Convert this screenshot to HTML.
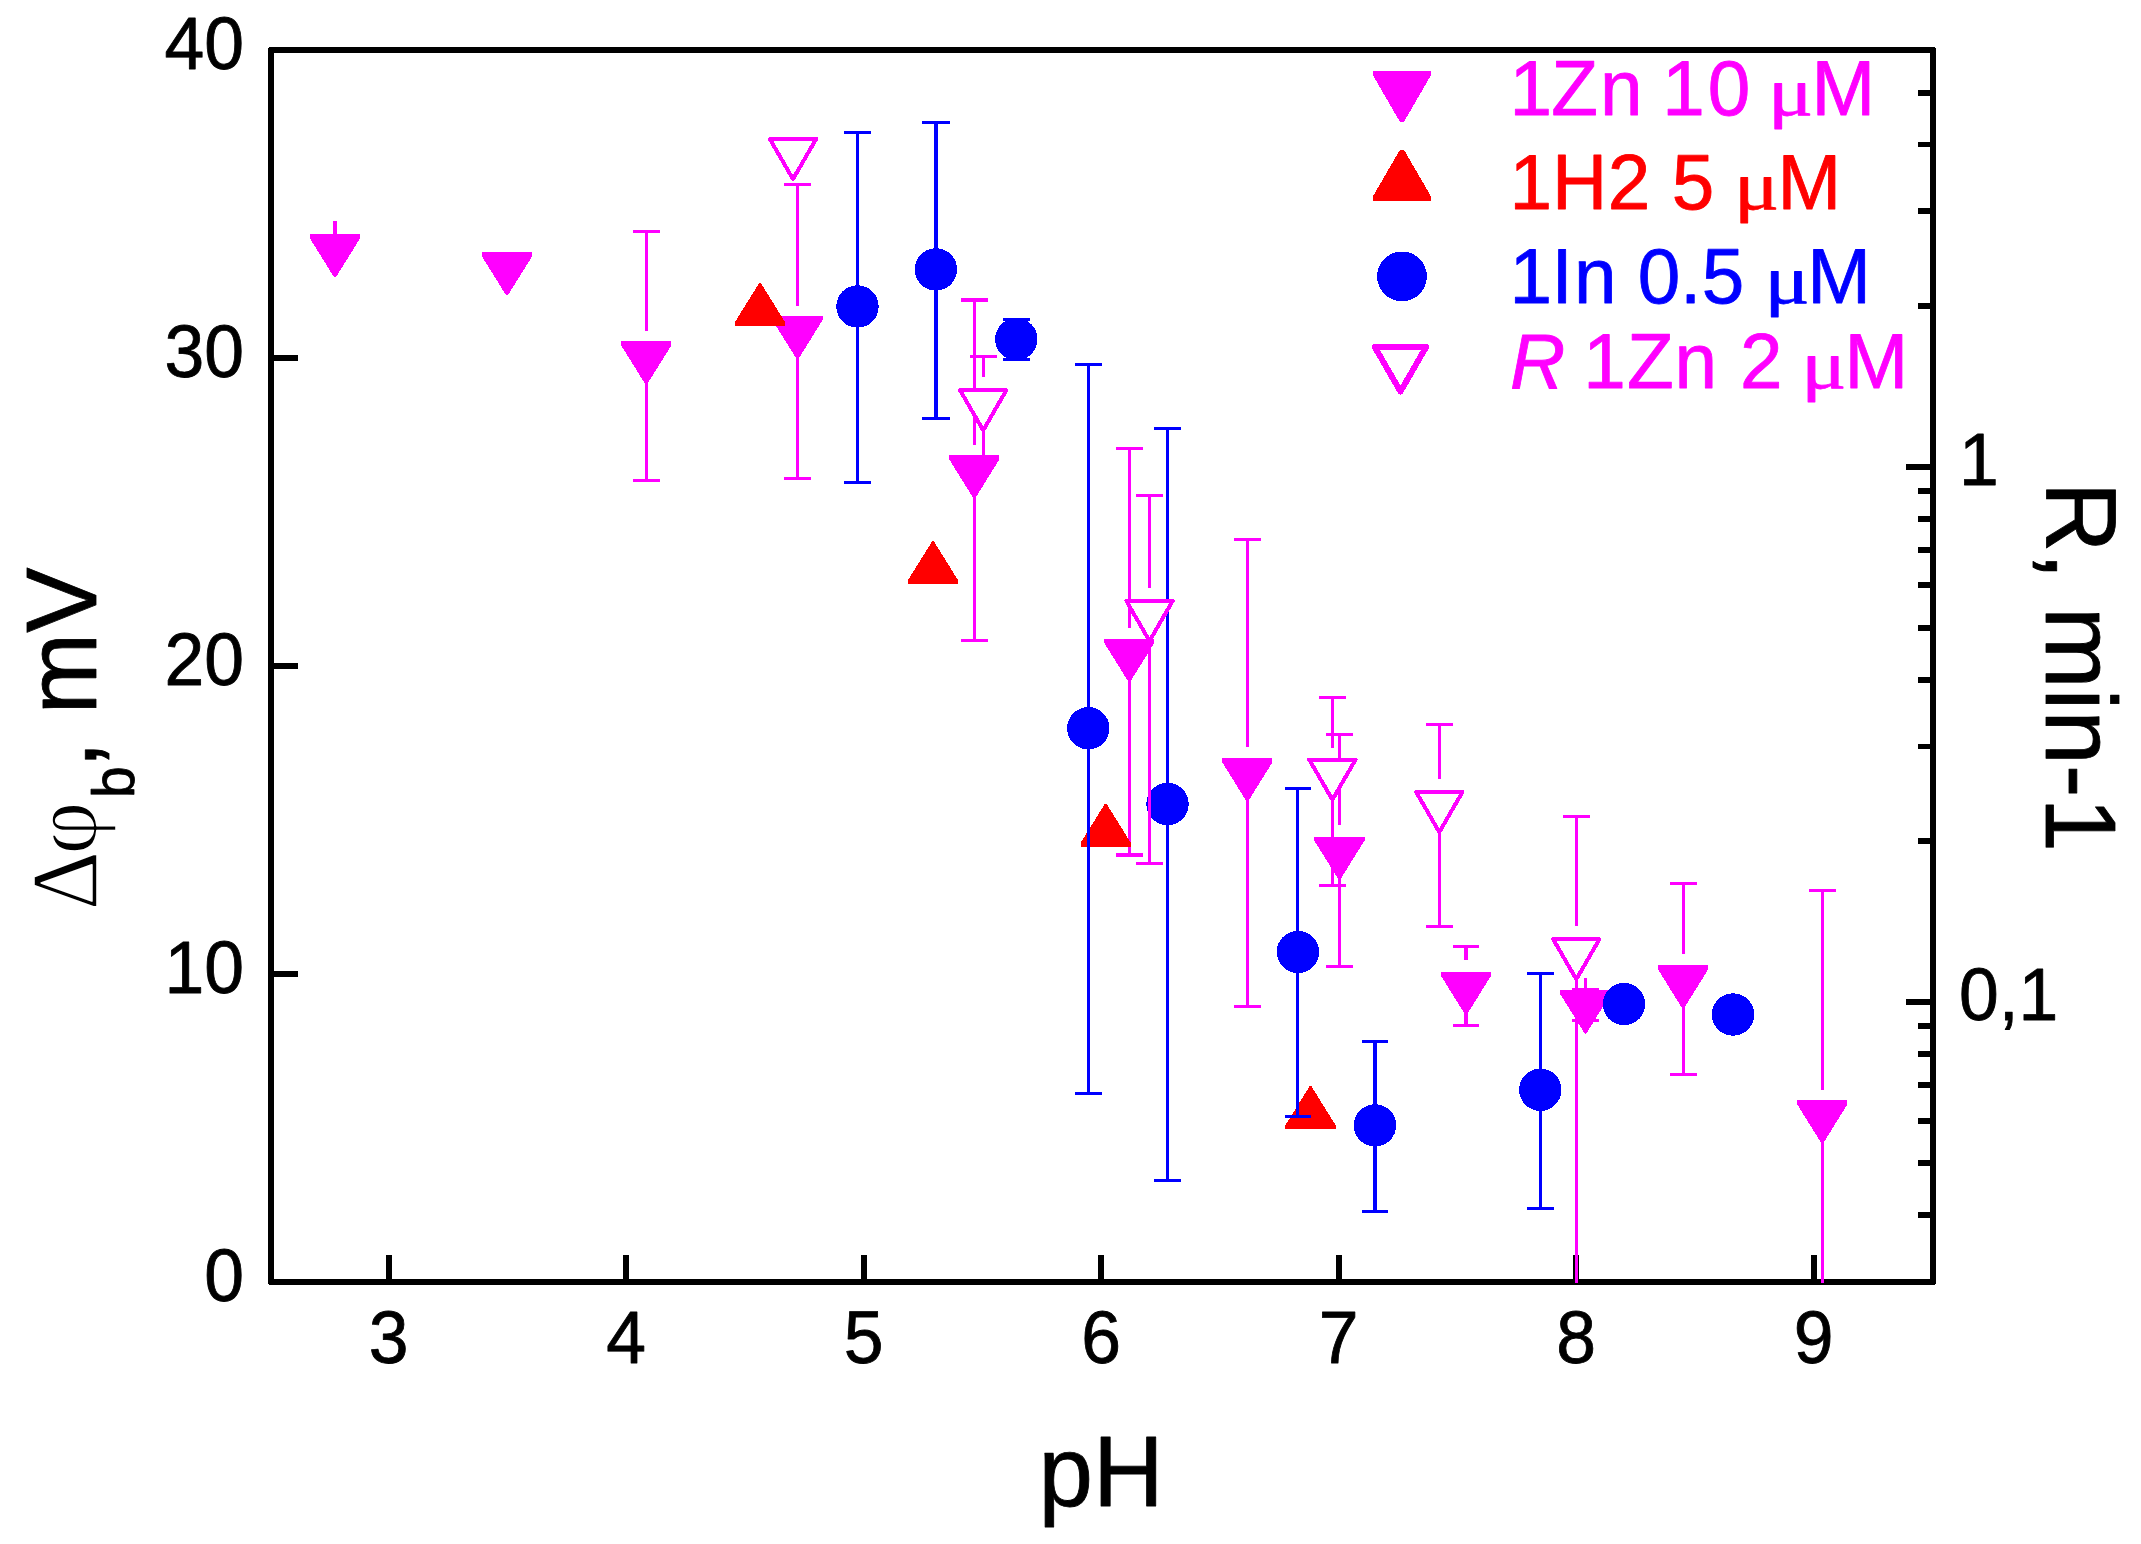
<!DOCTYPE html>
<html lang="en"><head><meta charset="utf-8"><title>pH dependence plot</title>
<style>html,body{margin:0;padding:0;background:#fff;}body{width:2141px;height:1544px;overflow:hidden;}svg{display:block;}text{font-family:"Liberation Sans",Arial,sans-serif;stroke-width:0.8px;stroke-linejoin:round;}.sym{font-family:"Liberation Serif","DejaVu Serif",serif;}</style></head><body>
<svg width="2141" height="1544" viewBox="0 0 2141 1544" shape-rendering="crispEdges">
<rect x="0" y="0" width="2141" height="1544" fill="#ffffff"/>
<rect x="271" y="49.95" width="1662.1" height="1232.15" fill="none" stroke="#000000" stroke-width="6" stroke-linejoin="round"/>
<text transform="translate(244,68.85) scale(1,1.025)" font-size="71.5" text-anchor="end" fill="#000000" stroke="#000000">40</text>
<line x1="271" y1="357.99" x2="298.3" y2="357.99" stroke="#000000" stroke-width="5.9" stroke-linecap="butt"/>
<text transform="translate(244,376.89) scale(1,1.025)" font-size="71.5" text-anchor="end" fill="#000000" stroke="#000000">30</text>
<line x1="271" y1="666.02" x2="298.3" y2="666.02" stroke="#000000" stroke-width="5.9" stroke-linecap="butt"/>
<text transform="translate(244,684.92) scale(1,1.025)" font-size="71.5" text-anchor="end" fill="#000000" stroke="#000000">20</text>
<line x1="271" y1="974.06" x2="298.3" y2="974.06" stroke="#000000" stroke-width="5.9" stroke-linecap="butt"/>
<text transform="translate(244,992.96) scale(1,1.025)" font-size="71.5" text-anchor="end" fill="#000000" stroke="#000000">10</text>
<text transform="translate(244,1301) scale(1,1.025)" font-size="71.5" text-anchor="end" fill="#000000" stroke="#000000">0</text>
<line x1="388.75" y1="1282.1" x2="388.75" y2="1254.9" stroke="#000000" stroke-width="5.9" stroke-linecap="butt"/>
<text transform="translate(388.75,1363.2) scale(1,1.025)" font-size="71.5" text-anchor="middle" fill="#000000" stroke="#000000">3</text>
<line x1="626.25" y1="1282.1" x2="626.25" y2="1254.9" stroke="#000000" stroke-width="5.9" stroke-linecap="butt"/>
<text transform="translate(626.25,1363.2) scale(1,1.025)" font-size="71.5" text-anchor="middle" fill="#000000" stroke="#000000">4</text>
<line x1="863.75" y1="1282.1" x2="863.75" y2="1254.9" stroke="#000000" stroke-width="5.9" stroke-linecap="butt"/>
<text transform="translate(863.75,1363.2) scale(1,1.025)" font-size="71.5" text-anchor="middle" fill="#000000" stroke="#000000">5</text>
<line x1="1101.25" y1="1282.1" x2="1101.25" y2="1254.9" stroke="#000000" stroke-width="5.9" stroke-linecap="butt"/>
<text transform="translate(1101.25,1363.2) scale(1,1.025)" font-size="71.5" text-anchor="middle" fill="#000000" stroke="#000000">6</text>
<line x1="1338.75" y1="1282.1" x2="1338.75" y2="1254.9" stroke="#000000" stroke-width="5.9" stroke-linecap="butt"/>
<text transform="translate(1338.75,1363.2) scale(1,1.025)" font-size="71.5" text-anchor="middle" fill="#000000" stroke="#000000">7</text>
<line x1="1576.25" y1="1282.1" x2="1576.25" y2="1254.9" stroke="#000000" stroke-width="5.9" stroke-linecap="butt"/>
<text transform="translate(1576.25,1363.2) scale(1,1.025)" font-size="71.5" text-anchor="middle" fill="#000000" stroke="#000000">8</text>
<line x1="1813.75" y1="1282.1" x2="1813.75" y2="1254.9" stroke="#000000" stroke-width="5.9" stroke-linecap="butt"/>
<text transform="translate(1813.75,1363.2) scale(1,1.025)" font-size="71.5" text-anchor="middle" fill="#000000" stroke="#000000">9</text>
<line x1="1933.1" y1="92.61" x2="1918.1" y2="92.61" stroke="#000000" stroke-width="5.9" stroke-linecap="butt"/>
<line x1="1933.1" y1="144.48" x2="1918.1" y2="144.48" stroke="#000000" stroke-width="5.9" stroke-linecap="butt"/>
<line x1="1933.1" y1="211.34" x2="1918.1" y2="211.34" stroke="#000000" stroke-width="5.9" stroke-linecap="butt"/>
<line x1="1933.1" y1="305.59" x2="1918.1" y2="305.59" stroke="#000000" stroke-width="5.9" stroke-linecap="butt"/>
<line x1="1933.1" y1="491.19" x2="1918.1" y2="491.19" stroke="#000000" stroke-width="5.9" stroke-linecap="butt"/>
<line x1="1933.1" y1="518.57" x2="1918.1" y2="518.57" stroke="#000000" stroke-width="5.9" stroke-linecap="butt"/>
<line x1="1933.1" y1="549.6" x2="1918.1" y2="549.6" stroke="#000000" stroke-width="5.9" stroke-linecap="butt"/>
<line x1="1933.1" y1="585.43" x2="1918.1" y2="585.43" stroke="#000000" stroke-width="5.9" stroke-linecap="butt"/>
<line x1="1933.1" y1="627.81" x2="1918.1" y2="627.81" stroke="#000000" stroke-width="5.9" stroke-linecap="butt"/>
<line x1="1933.1" y1="679.68" x2="1918.1" y2="679.68" stroke="#000000" stroke-width="5.9" stroke-linecap="butt"/>
<line x1="1933.1" y1="746.54" x2="1918.1" y2="746.54" stroke="#000000" stroke-width="5.9" stroke-linecap="butt"/>
<line x1="1933.1" y1="840.79" x2="1918.1" y2="840.79" stroke="#000000" stroke-width="5.9" stroke-linecap="butt"/>
<line x1="1933.1" y1="1026.39" x2="1918.1" y2="1026.39" stroke="#000000" stroke-width="5.9" stroke-linecap="butt"/>
<line x1="1933.1" y1="1053.77" x2="1918.1" y2="1053.77" stroke="#000000" stroke-width="5.9" stroke-linecap="butt"/>
<line x1="1933.1" y1="1084.8" x2="1918.1" y2="1084.8" stroke="#000000" stroke-width="5.9" stroke-linecap="butt"/>
<line x1="1933.1" y1="1120.63" x2="1918.1" y2="1120.63" stroke="#000000" stroke-width="5.9" stroke-linecap="butt"/>
<line x1="1933.1" y1="1163.01" x2="1918.1" y2="1163.01" stroke="#000000" stroke-width="5.9" stroke-linecap="butt"/>
<line x1="1933.1" y1="1214.88" x2="1918.1" y2="1214.88" stroke="#000000" stroke-width="5.9" stroke-linecap="butt"/>
<line x1="1933.1" y1="466.7" x2="1905.8" y2="466.7" stroke="#000000" stroke-width="5.9" stroke-linecap="butt"/>
<text transform="translate(1959,485.2) scale(1,1.025)" font-size="71.5" fill="#000000" stroke="#000000">1</text>
<line x1="1933.1" y1="1001.9" x2="1905.8" y2="1001.9" stroke="#000000" stroke-width="5.9" stroke-linecap="butt"/>
<text transform="translate(1959,1020.4) scale(1,1.025)" font-size="71.5" fill="#000000" stroke="#000000">0,1</text>
<g id="s1">
<line x1="335" y1="221.25" x2="335" y2="236" stroke="#ff00ff" stroke-width="3.1" stroke-linecap="butt"/>
<polygon points="309.85,234.25 360.15,234.25 360.15,238.25 335.8,277.45 334.2,277.45 309.85,238.25" fill="#ff00ff"/>
<polygon points="481.85,252.25 532.15,252.25 532.15,256.25 507.8,295.45 506.2,295.45 481.85,256.25" fill="#ff00ff"/>
<line x1="632.85" y1="231.25" x2="659.65" y2="231.25" stroke="#ff00ff" stroke-width="3.1" stroke-linecap="butt"/>
<line x1="646.25" y1="231.25" x2="646.25" y2="330.5" stroke="#ff00ff" stroke-width="3.1" stroke-linecap="butt"/>
<line x1="646.25" y1="380.95" x2="646.25" y2="480.3" stroke="#ff00ff" stroke-width="3.1" stroke-linecap="butt"/>
<line x1="632.85" y1="480.3" x2="659.65" y2="480.3" stroke="#ff00ff" stroke-width="3.1" stroke-linecap="butt"/>
<polygon points="621.1,341.25 671.4,341.25 671.4,345.25 647.05,384.45 645.45,384.45 621.1,345.25" fill="#ff00ff"/>
<line x1="784.1" y1="184.5" x2="810.9" y2="184.5" stroke="#ff00ff" stroke-width="3.1" stroke-linecap="butt"/>
<line x1="797.5" y1="184.5" x2="797.5" y2="305.5" stroke="#ff00ff" stroke-width="3.1" stroke-linecap="butt"/>
<line x1="797.5" y1="355.7" x2="797.5" y2="478.3" stroke="#ff00ff" stroke-width="3.1" stroke-linecap="butt"/>
<line x1="784.1" y1="478.3" x2="810.9" y2="478.3" stroke="#ff00ff" stroke-width="3.1" stroke-linecap="butt"/>
<polygon points="772.35,316 822.65,316 822.65,320 798.3,359.2 796.7,359.2 772.35,320" fill="#ff00ff"/>
<line x1="960.9" y1="300" x2="987.7" y2="300" stroke="#ff00ff" stroke-width="3.1" stroke-linecap="butt"/>
<line x1="974.3" y1="300" x2="974.3" y2="444.5" stroke="#ff00ff" stroke-width="3.1" stroke-linecap="butt"/>
<line x1="974.3" y1="495" x2="974.3" y2="640.5" stroke="#ff00ff" stroke-width="3.1" stroke-linecap="butt"/>
<line x1="960.9" y1="640.5" x2="987.7" y2="640.5" stroke="#ff00ff" stroke-width="3.1" stroke-linecap="butt"/>
<polygon points="949.15,455.3 999.45,455.3 999.45,459.3 975.1,498.5 973.5,498.5 949.15,459.3" fill="#ff00ff"/>
<line x1="1115.9" y1="448.25" x2="1142.7" y2="448.25" stroke="#ff00ff" stroke-width="3.1" stroke-linecap="butt"/>
<line x1="1129.3" y1="448.25" x2="1129.3" y2="627.5" stroke="#ff00ff" stroke-width="3.1" stroke-linecap="butt"/>
<line x1="1129.3" y1="678.45" x2="1129.3" y2="855" stroke="#ff00ff" stroke-width="3.1" stroke-linecap="butt"/>
<line x1="1115.9" y1="855" x2="1142.7" y2="855" stroke="#ff00ff" stroke-width="3.1" stroke-linecap="butt"/>
<polygon points="1104.15,638.75 1154.45,638.75 1154.45,642.75 1130.1,681.95 1128.5,681.95 1104.15,642.75" fill="#ff00ff"/>
<line x1="1233.9" y1="539.25" x2="1260.7" y2="539.25" stroke="#ff00ff" stroke-width="3.1" stroke-linecap="butt"/>
<line x1="1247.3" y1="539.25" x2="1247.3" y2="747" stroke="#ff00ff" stroke-width="3.1" stroke-linecap="butt"/>
<line x1="1247.3" y1="797.9" x2="1247.3" y2="1006.3" stroke="#ff00ff" stroke-width="3.1" stroke-linecap="butt"/>
<line x1="1233.9" y1="1006.3" x2="1260.7" y2="1006.3" stroke="#ff00ff" stroke-width="3.1" stroke-linecap="butt"/>
<polygon points="1222.15,758.2 1272.45,758.2 1272.45,762.2 1248.1,801.4 1246.5,801.4 1222.15,762.2" fill="#ff00ff"/>
<line x1="1326" y1="734.4" x2="1352.8" y2="734.4" stroke="#ff00ff" stroke-width="3.1" stroke-linecap="butt"/>
<line x1="1339.4" y1="734.4" x2="1339.4" y2="825" stroke="#ff00ff" stroke-width="3.1" stroke-linecap="butt"/>
<line x1="1339.4" y1="876.2" x2="1339.4" y2="966.25" stroke="#ff00ff" stroke-width="3.1" stroke-linecap="butt"/>
<line x1="1326" y1="966.25" x2="1352.8" y2="966.25" stroke="#ff00ff" stroke-width="3.1" stroke-linecap="butt"/>
<polygon points="1314.25,836.5 1364.55,836.5 1364.55,840.5 1340.2,879.7 1338.6,879.7 1314.25,840.5" fill="#ff00ff"/>
<line x1="1452.6" y1="946.25" x2="1479.4" y2="946.25" stroke="#ff00ff" stroke-width="3.1" stroke-linecap="butt"/>
<line x1="1466" y1="946.25" x2="1466" y2="960.3" stroke="#ff00ff" stroke-width="3.1" stroke-linecap="butt"/>
<line x1="1466" y1="1011.3" x2="1466" y2="1025.5" stroke="#ff00ff" stroke-width="3.1" stroke-linecap="butt"/>
<line x1="1452.6" y1="1025.5" x2="1479.4" y2="1025.5" stroke="#ff00ff" stroke-width="3.1" stroke-linecap="butt"/>
<polygon points="1440.85,971.6 1491.15,971.6 1491.15,975.6 1466.8,1014.8 1465.2,1014.8 1440.85,975.6" fill="#ff00ff"/>
<line x1="1585.5" y1="1030" x2="1585.5" y2="1020.5" stroke="#ff00ff" stroke-width="3.1" stroke-linecap="butt"/>
<line x1="1572.1" y1="1020.5" x2="1598.9" y2="1020.5" stroke="#ff00ff" stroke-width="3.1" stroke-linecap="butt"/>
<line x1="1585.5" y1="977.5" x2="1585.5" y2="992" stroke="#ff00ff" stroke-width="3.1" stroke-linecap="butt"/>
<line x1="1572.1" y1="989.6" x2="1598.9" y2="989.6" stroke="#ff00ff" stroke-width="3.1" stroke-linecap="butt"/>
<polygon points="1560.35,990.3 1610.65,990.3 1610.65,994.3 1586.3,1033.5 1584.7,1033.5 1560.35,994.3" fill="#ff00ff"/>
<line x1="1669.7" y1="883.75" x2="1696.5" y2="883.75" stroke="#ff00ff" stroke-width="3.1" stroke-linecap="butt"/>
<line x1="1683.1" y1="883.75" x2="1683.1" y2="954" stroke="#ff00ff" stroke-width="3.1" stroke-linecap="butt"/>
<line x1="1683.1" y1="1005" x2="1683.1" y2="1074.75" stroke="#ff00ff" stroke-width="3.1" stroke-linecap="butt"/>
<line x1="1669.7" y1="1074.75" x2="1696.5" y2="1074.75" stroke="#ff00ff" stroke-width="3.1" stroke-linecap="butt"/>
<polygon points="1657.95,965.3 1708.25,965.3 1708.25,969.3 1683.9,1008.5 1682.3,1008.5 1657.95,969.3" fill="#ff00ff"/>
<line x1="1808.9" y1="890.25" x2="1835.7" y2="890.25" stroke="#ff00ff" stroke-width="3.1" stroke-linecap="butt"/>
<line x1="1822.3" y1="890.25" x2="1822.3" y2="1089.5" stroke="#ff00ff" stroke-width="3.1" stroke-linecap="butt"/>
<line x1="1822.3" y1="1140" x2="1822.3" y2="1283" stroke="#ff00ff" stroke-width="3.1" stroke-linecap="butt"/>
<polygon points="1797.15,1100.3 1847.45,1100.3 1847.45,1104.3 1823.1,1143.5 1821.5,1143.5 1797.15,1104.3" fill="#ff00ff"/>
</g>
<g id="s2">
<polygon points="734.85,326.2 785.15,326.2 785.15,322.2 760.8,283 759.2,283 734.85,322.2" fill="#ff0000"/>
<polygon points="907.85,584.4 958.15,584.4 958.15,580.4 933.8,541.2 932.2,541.2 907.85,580.4" fill="#ff0000"/>
<polygon points="1080.6,846.95 1130.9,846.95 1130.9,842.95 1106.55,803.75 1104.95,803.75 1080.6,842.95" fill="#ff0000"/>
<polygon points="1285.35,1129.3 1335.65,1129.3 1335.65,1125.3 1311.3,1086.1 1309.7,1086.1 1285.35,1125.3" fill="#ff0000"/>
</g>
<g id="s3">
<line x1="857.5" y1="132.5" x2="857.5" y2="482.4" stroke="#0000ff" stroke-width="3.1" stroke-linecap="butt"/>
<line x1="844.1" y1="132.5" x2="870.9" y2="132.5" stroke="#0000ff" stroke-width="3.1" stroke-linecap="butt"/>
<line x1="844.1" y1="482.4" x2="870.9" y2="482.4" stroke="#0000ff" stroke-width="3.1" stroke-linecap="butt"/>
<circle cx="857.5" cy="306.5" r="21.2" fill="#0000ff"/>
<line x1="936.2" y1="122.5" x2="936.2" y2="418.3" stroke="#0000ff" stroke-width="4" stroke-linecap="butt"/>
<line x1="922" y1="122.5" x2="950" y2="122.5" stroke="#0000ff" stroke-width="3.1" stroke-linecap="butt"/>
<line x1="922" y1="418.3" x2="950" y2="418.3" stroke="#0000ff" stroke-width="3.1" stroke-linecap="butt"/>
<circle cx="935.9" cy="269.4" r="21.2" fill="#0000ff"/>
<line x1="1016.3" y1="319.5" x2="1016.3" y2="359.5" stroke="#0000ff" stroke-width="3.1" stroke-linecap="butt"/>
<line x1="1002.9" y1="319.5" x2="1029.7" y2="319.5" stroke="#0000ff" stroke-width="3.1" stroke-linecap="butt"/>
<line x1="1002.9" y1="359.5" x2="1029.7" y2="359.5" stroke="#0000ff" stroke-width="3.1" stroke-linecap="butt"/>
<circle cx="1016.3" cy="339.2" r="21.2" fill="#0000ff"/>
<line x1="1088.3" y1="364.5" x2="1088.3" y2="1093.6" stroke="#0000ff" stroke-width="3.1" stroke-linecap="butt"/>
<line x1="1074.9" y1="364.5" x2="1101.7" y2="364.5" stroke="#0000ff" stroke-width="3.1" stroke-linecap="butt"/>
<line x1="1074.9" y1="1093.6" x2="1101.7" y2="1093.6" stroke="#0000ff" stroke-width="3.1" stroke-linecap="butt"/>
<circle cx="1088.3" cy="728.25" r="21.2" fill="#0000ff"/>
<line x1="1167.5" y1="428.25" x2="1167.5" y2="1180.7" stroke="#0000ff" stroke-width="3.1" stroke-linecap="butt"/>
<line x1="1154.1" y1="428.25" x2="1180.9" y2="428.25" stroke="#0000ff" stroke-width="3.1" stroke-linecap="butt"/>
<line x1="1154.1" y1="1180.7" x2="1180.9" y2="1180.7" stroke="#0000ff" stroke-width="3.1" stroke-linecap="butt"/>
<circle cx="1167.5" cy="804" r="21.2" fill="#0000ff"/>
<line x1="1297.9" y1="788.25" x2="1297.9" y2="1116.7" stroke="#0000ff" stroke-width="3.1" stroke-linecap="butt"/>
<line x1="1284.5" y1="788.25" x2="1311.3" y2="788.25" stroke="#0000ff" stroke-width="3.1" stroke-linecap="butt"/>
<line x1="1284.5" y1="1116.7" x2="1311.3" y2="1116.7" stroke="#0000ff" stroke-width="3.1" stroke-linecap="butt"/>
<circle cx="1297.9" cy="952" r="21.2" fill="#0000ff"/>
<line x1="1375" y1="1041.3" x2="1375" y2="1211.3" stroke="#0000ff" stroke-width="3.1" stroke-linecap="butt"/>
<line x1="1361.6" y1="1041.3" x2="1388.4" y2="1041.3" stroke="#0000ff" stroke-width="3.1" stroke-linecap="butt"/>
<line x1="1361.6" y1="1211.3" x2="1388.4" y2="1211.3" stroke="#0000ff" stroke-width="3.1" stroke-linecap="butt"/>
<circle cx="1375" cy="1125.4" r="21.2" fill="#0000ff"/>
<line x1="1540.3" y1="973.25" x2="1540.3" y2="1208.25" stroke="#0000ff" stroke-width="3.1" stroke-linecap="butt"/>
<line x1="1526.9" y1="973.25" x2="1553.7" y2="973.25" stroke="#0000ff" stroke-width="3.1" stroke-linecap="butt"/>
<line x1="1526.9" y1="1208.25" x2="1553.7" y2="1208.25" stroke="#0000ff" stroke-width="3.1" stroke-linecap="butt"/>
<circle cx="1540.3" cy="1089.75" r="21.2" fill="#0000ff"/>
<circle cx="1624" cy="1004.1" r="21.2" fill="#0000ff"/>
<circle cx="1733" cy="1014.5" r="21.2" fill="#0000ff"/>
</g>
<g id="s4">
<polygon points="769.85,139 816.15,139 793,179.1" fill="#ffffff" stroke="#ff00ff" stroke-width="4" stroke-linejoin="round"/>
<line x1="969.8" y1="356.25" x2="996.6" y2="356.25" stroke="#ff00ff" stroke-width="3.1" stroke-linecap="butt"/>
<line x1="983.2" y1="356.25" x2="983.2" y2="377" stroke="#ff00ff" stroke-width="3.1" stroke-linecap="butt"/>
<line x1="983.2" y1="430.3" x2="983.2" y2="462" stroke="#ff00ff" stroke-width="3.1" stroke-linecap="butt"/>
<polygon points="960.05,390.2 1006.35,390.2 983.2,430.3" fill="#ffffff" stroke="#ff00ff" stroke-width="4" stroke-linejoin="round"/>
<line x1="1136.1" y1="495.5" x2="1162.9" y2="495.5" stroke="#ff00ff" stroke-width="3.1" stroke-linecap="butt"/>
<line x1="1149.5" y1="495.5" x2="1149.5" y2="587.5" stroke="#ff00ff" stroke-width="3.1" stroke-linecap="butt"/>
<line x1="1149.5" y1="641" x2="1149.5" y2="863.75" stroke="#ff00ff" stroke-width="3.1" stroke-linecap="butt"/>
<line x1="1136.1" y1="863.75" x2="1162.9" y2="863.75" stroke="#ff00ff" stroke-width="3.1" stroke-linecap="butt"/>
<polygon points="1126.35,600.9 1172.65,600.9 1149.5,641" fill="#ffffff" stroke="#ff00ff" stroke-width="4" stroke-linejoin="round"/>
<line x1="1319" y1="697.5" x2="1345.8" y2="697.5" stroke="#ff00ff" stroke-width="3.1" stroke-linecap="butt"/>
<line x1="1332.4" y1="697.5" x2="1332.4" y2="747.5" stroke="#ff00ff" stroke-width="3.1" stroke-linecap="butt"/>
<line x1="1332.4" y1="799.7" x2="1332.4" y2="885.5" stroke="#ff00ff" stroke-width="3.1" stroke-linecap="butt"/>
<line x1="1319" y1="885.5" x2="1345.8" y2="885.5" stroke="#ff00ff" stroke-width="3.1" stroke-linecap="butt"/>
<polygon points="1309.25,759.6 1355.55,759.6 1332.4,799.7" fill="#ffffff" stroke="#ff00ff" stroke-width="4" stroke-linejoin="round"/>
<line x1="1425.9" y1="724.25" x2="1452.7" y2="724.25" stroke="#ff00ff" stroke-width="3.1" stroke-linecap="butt"/>
<line x1="1439.3" y1="724.25" x2="1439.3" y2="778.75" stroke="#ff00ff" stroke-width="3.1" stroke-linecap="butt"/>
<line x1="1439.3" y1="832.1" x2="1439.3" y2="926.25" stroke="#ff00ff" stroke-width="3.1" stroke-linecap="butt"/>
<line x1="1425.9" y1="926.25" x2="1452.7" y2="926.25" stroke="#ff00ff" stroke-width="3.1" stroke-linecap="butt"/>
<polygon points="1416.15,792 1462.45,792 1439.3,832.1" fill="#ffffff" stroke="#ff00ff" stroke-width="4" stroke-linejoin="round"/>
<line x1="1562.9" y1="816.75" x2="1589.7" y2="816.75" stroke="#ff00ff" stroke-width="3.1" stroke-linecap="butt"/>
<line x1="1576.3" y1="816.75" x2="1576.3" y2="926.25" stroke="#ff00ff" stroke-width="3.1" stroke-linecap="butt"/>
<line x1="1576.3" y1="979.3" x2="1576.3" y2="1283" stroke="#ff00ff" stroke-width="3.1" stroke-linecap="butt"/>
<polygon points="1553.15,939.2 1599.45,939.2 1576.3,979.3" fill="#ffffff" stroke="#ff00ff" stroke-width="4" stroke-linejoin="round"/>
</g>
<text transform="translate(1038.4,1505.6) scale(1,1.025)" font-size="98" fill="#000000" stroke="#000000">pH</text>
<text transform="translate(2046,481.7) rotate(90) scale(1,1.025)" font-size="98" fill="#000000" stroke="#000000">R, min-1</text>
<g transform="translate(96.4,906.6) rotate(-90) scale(1,1.025)" fill="#000000" stroke="#000000"><text class="sym" x="-3.6" y="0.5" font-size="92" stroke="#ffffff" style="stroke-width:1.5px">Δ</text><text class="sym" x="52" y="0" font-size="91.5" stroke="#ffffff" style="stroke-width:1.5px">φ</text><text x="108.5" y="36.4" font-size="57">b</text><text x="138.3" y="0" font-size="98">,</text><text x="192.2" y="0" font-size="98">mV</text></g>
<polygon points="1374,71.9 1429.9,71.9 1429.9,74.7 1403.15,120.9 1400.75,120.9 1374,74.7" fill="#ff00ff" stroke="#ff00ff" stroke-width="2.4" stroke-linejoin="round"/>
<polygon points="1374,199.7 1429.9,199.7 1429.9,196.9 1403.15,150.8 1400.75,150.8 1374,196.9" fill="#ff0000" stroke="#ff0000" stroke-width="2.4" stroke-linejoin="round"/>
<circle cx="1402" cy="276.4" r="24.9" fill="#0000ff"/>
<polygon points="1374.8,347 1426.1,347 1400.45,391.5" fill="#ffffff" stroke="#ff00ff" stroke-width="6" stroke-linejoin="round"/>
<text transform="translate(0,115) scale(1,1.025)" font-size="76.5" fill="#ff00ff" stroke="#ff00ff"><tspan x="1509.6 1551.3 1600 1642 1662.3 1707.8">1Zn 10 </tspan></text>
<text class="sym" transform="translate(1768.1,115) scale(1.24,1)" font-size="68" fill="#ff00ff" stroke="#ff00ff">μ</text>
<text transform="translate(0,115) scale(1,1.025)" font-size="76.5" fill="#ff00ff" stroke="#ff00ff" x="1811.4">M</text>
<text transform="translate(0,208.9) scale(1,1.025)" font-size="76.5" fill="#ff0000" stroke="#ff0000"><tspan x="1509.4 1551.9 1607.8 1650 1671.7">1H2 5 </tspan></text>
<text class="sym" transform="translate(1734.1,208.9) scale(1.24,1)" font-size="68" fill="#ff0000" stroke="#ff0000">μ</text>
<text transform="translate(0,208.9) scale(1,1.025)" font-size="76.5" fill="#ff0000" stroke="#ff0000" x="1777.4">M</text>
<text transform="translate(0,303.1) scale(1,1.025)" font-size="76.5" fill="#0000ff" stroke="#0000ff"><tspan x="1509.4 1551.4 1574.1 1616 1637.7 1679.9 1701.8">1In 0.5 </tspan></text>
<text class="sym" transform="translate(1764.6,303.1) scale(1.24,1)" font-size="68" fill="#0000ff" stroke="#0000ff">μ</text>
<text transform="translate(0,303.1) scale(1,1.025)" font-size="76.5" fill="#0000ff" stroke="#0000ff" x="1807.3">M</text>
<text transform="translate(0,388) scale(1,1.025)" font-size="76.5" fill="#ff00ff" stroke="#ff00ff"><tspan x="1510" font-style="italic">R</tspan><tspan x="1565 1583.3 1627 1674.5 1718 1740"> 1Zn 2 </tspan></text>
<text class="sym" transform="translate(1801.3,388) scale(1.24,1)" font-size="68" fill="#ff00ff" stroke="#ff00ff">μ</text>
<text transform="translate(0,388) scale(1,1.025)" font-size="76.5" fill="#ff00ff" stroke="#ff00ff" x="1844.6">M</text>
</svg></body></html>
